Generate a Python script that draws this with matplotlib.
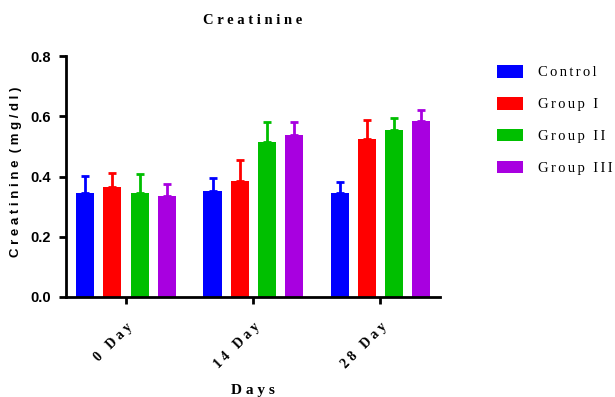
import numpy as np
import matplotlib.pyplot as plt
from matplotlib.patches import Patch

days = ["0 Day", "14 Day", "28 Day"]
groups = ["Control", "Group I", "Group II", "Group III"]
colors = ["#0000ff", "#ff0000", "#00bf00", "#a800e0"]

# mean creatinine (mg/dl) per group, one value per day
control = [0.346, 0.351, 0.346]
group1 = [0.365, 0.384, 0.523]
group2 = [0.345, 0.515, 0.555]
group3 = [0.336, 0.537, 0.584]

# standard deviations (upper bar only)
control_sd = [0.055, 0.043, 0.037]
group1_sd = [0.045, 0.072, 0.063]
group2_sd = [0.063, 0.066, 0.039]
group3_sd = [0.038, 0.045, 0.036]

means = [control, group1, group2, group3]
sds = [control_sd, group1_sd, group2_sd, group3_sd]


def spaced(s, sep=" "):
    return sep.join(s)


fig = plt.figure(figsize=(6.15, 3.97), dpi=100)
ax = fig.add_axes([66 / 615, 100 / 397, 374 / 615, 241 / 397])

x = np.arange(len(days))
pitch = 0.213
width = 0.142
for i in range(len(groups)):
    pos = x + (i - 1.5) * pitch
    ax.bar(pos, means[i], width=width, color=colors[i], zorder=2)
    ax.errorbar(pos, means[i], yerr=[np.zeros(len(days)), sds[i]], fmt="none",
                ecolor=colors[i], elinewidth=2, capsize=3, capthick=2, zorder=1)

ax.set_xlim(-0.472, 2.47)
ax.set_ylim(0, 0.8)
ax.set_yticks([0.0, 0.2, 0.4, 0.6, 0.8])
ax.set_yticklabels(["0.0", "0.2", "0.4", "0.6", "0.8"], fontfamily="Liberation Sans",
                   fontweight="bold", fontsize=10.5)
ax.set_xticks(x)
ax.set_xticklabels([spaced(d) for d in days], rotation=45, ha="right",
                   rotation_mode="anchor", fontfamily="Liberation Serif",
                   fontweight="bold", fontsize=10)

for side in ["top", "right"]:
    ax.spines[side].set_visible(False)
for side in ["left", "bottom"]:
    ax.spines[side].set_linewidth(2)
ax.tick_params(axis="both", width=2, length=5, direction="out")
ax.tick_params(axis="x", pad=12)
ax.tick_params(axis="y", pad=6)

ax.set_ylabel(spaced("Creatinine") + "  " + spaced("(mg/dl)"), fontfamily="Liberation Sans",
              fontweight="bold", fontsize=9.5)
ax.yaxis.set_label_coords(-0.118, 0.52)
ax.set_xlabel(spaced("Days"), fontfamily="Liberation Serif", fontweight="bold",
              fontsize=11, labelpad=9)
fig.text(253 / 615, 1 - 20 / 397, spaced("Creatinine"), ha="center", va="center",
         fontfamily="Liberation Serif", fontweight="bold", fontsize=10.5)

# legend labels use a narrower letter gap so "Group III" fits
handles = [Patch(facecolor=c) for c in colors]
fig.legend(handles, [spaced(g, "\u2006") for g in groups], loc="upper left",
           bbox_to_anchor=(484 / 615, 1 - 52 / 397), frameon=False,
           prop={"family": ["Liberation Serif", "DejaVu Serif"], "size": 10.5},
           handlelength=1.8, handleheight=0.95, handletextpad=1.0, labelspacing=1.2)

plt.savefig("out.png", dpi=100)
